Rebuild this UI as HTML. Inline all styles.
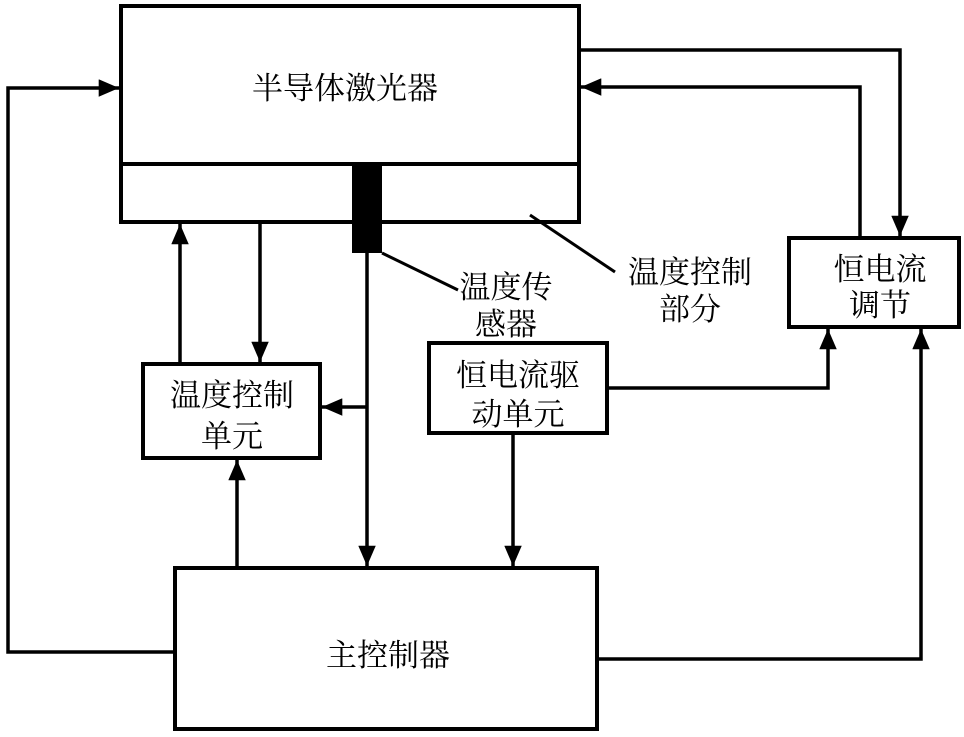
<!DOCTYPE html>
<html><head><meta charset="utf-8"><style>
html,body{margin:0;padding:0;background:#fff;}
svg{display:block;}
text{font-family:"Noto Serif CJK SC","Noto Sans CJK SC",serif;font-size:31px;fill:#000;}
</style></head><body>
<svg width="964" height="737" viewBox="0 0 964 737" xmlns="http://www.w3.org/2000/svg">
<defs>
<marker id="a" viewBox="0 0 10 10" refX="10" refY="5" markerWidth="5.8" markerHeight="5" orient="auto" markerUnits="strokeWidth" preserveAspectRatio="none">
<path d="M0,0 L10,5 L0,10 z" fill="#000"/></marker>
</defs>
<g fill="none" stroke="#000" stroke-width="4">
<rect x="121" y="6" width="458" height="216"/>
<line x1="121" y1="164" x2="579" y2="164"/>
<rect x="143" y="364" width="177" height="94"/>
<rect x="429" y="343" width="178" height="90"/>
<rect x="789" y="238" width="170" height="89"/>
<rect x="175" y="568" width="422" height="161"/>
</g>
<rect x="352" y="165" width="30" height="88" fill="#000"/>
<g fill="none" stroke="#000" stroke-width="3.5">
<line x1="180" y1="362" x2="180" y2="224" marker-end="url(#a)"/>
<line x1="260" y1="222" x2="260" y2="362" marker-end="url(#a)"/>
<line x1="367" y1="252" x2="367" y2="566" marker-end="url(#a)"/>
<line x1="367" y1="407" x2="322" y2="407" marker-end="url(#a)"/>
<line x1="237" y1="568" x2="237" y2="460" marker-end="url(#a)"/>
<line x1="513" y1="433" x2="513" y2="566" marker-end="url(#a)"/>
<polyline points="607,388 828,388 828,329" marker-end="url(#a)"/>
<polyline points="579,50 900,50 900,236" marker-end="url(#a)"/>
<polyline points="860,238 860,87 581,87" marker-end="url(#a)"/>
<polyline points="597,659 921,659 921,329" marker-end="url(#a)"/>
<polyline points="175,652 8,652 8,88 119,88" marker-end="url(#a)"/>
<line x1="382" y1="253" x2="458" y2="290" stroke-width="3"/>
<line x1="530" y1="215" x2="615" y2="272" stroke-width="3"/>
</g>
<text x="345" y="99" text-anchor="middle">半导体激光器</text>
<text x="232" y="406" text-anchor="middle">温度控制</text>
<text x="232" y="447" text-anchor="middle">单元</text>
<text x="518" y="386" text-anchor="middle">恒电流驱</text>
<text x="518" y="425" text-anchor="middle">动单元</text>
<text x="506" y="298" text-anchor="middle">温度传</text>
<text x="506" y="335" text-anchor="middle">感器</text>
<text x="690" y="283" text-anchor="middle">温度控制</text>
<text x="690" y="320" text-anchor="middle">部分</text>
<text x="880" y="280" text-anchor="middle">恒电流</text>
<text x="880" y="316" text-anchor="middle">调节</text>
<text x="388" y="666" text-anchor="middle">主控制器</text>
</svg>
</body></html>
